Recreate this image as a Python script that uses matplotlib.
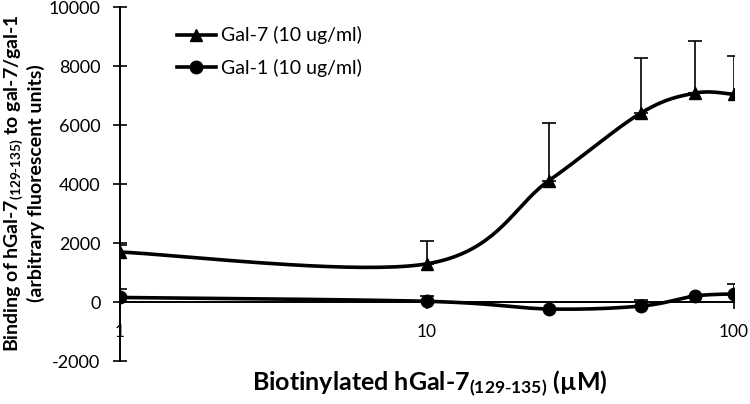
import matplotlib
matplotlib.use("Agg")
import matplotlib.pyplot as plt
from matplotlib.ticker import FixedLocator, FixedFormatter
import numpy as np

plt.rcParams['font.family'] = ['Lato', 'DejaVu Sans']
plt.rcParams['mathtext.default'] = 'regular'
plt.rcParams['axes.unicode_minus'] = False

# concentrations (uM)
conc = [1, 10, 25, 50, 75, 100]
# Gal-7 binding and upper error
gal7 = [1700, 1300, 4120, 6420, 7090, 7050]
gal7_err = [250, 780, 1940, 1870, 1760, 1290]
# Gal-1 binding and upper error
gal1 = [160, 30, -230, -130, 210, 280]
gal1_err = [290, 165, 0, 200, 0, 320]

yticks = [-2000, 0, 2000, 4000, 6000, 8000, 10000]
xticks = [1, 10, 100]
xticklabels = ['1', '10', '100']


def smooth(ax, xs, ys, n=40):
    # excel-like smoothed line: bezier through the points, done in pixel space
    p = ax.transData.transform(np.column_stack([xs, ys]))
    pts = np.vstack([p[0], p, p[-1]])
    out = []
    t = np.linspace(0, 1, n)[:, None]
    for i in range(1, len(pts) - 2):
        p0, p1, p2, p3 = pts[i - 1], pts[i], pts[i + 1], pts[i + 2]
        c1 = p1 + (p2 - p0) / 6
        c2 = p2 - (p3 - p1) / 6
        seg = (1 - t) ** 3 * p1 + 3 * (1 - t) ** 2 * t * c1 + 3 * (1 - t) * t ** 2 * c2 + t ** 3 * p2
        out.append(seg)
    out = np.vstack(out)
    d = ax.transData.inverted().transform(out)
    return d[:, 0], d[:, 1]


fig = plt.figure(figsize=(7.5, 4.04), dpi=100)
ax = fig.add_axes([0.16, 0.106, 0.818, 0.876])
ax.set_xscale('log')
ax.set_xlim(1, 100)
ax.set_ylim(-2000, 10000)

ax.spines['top'].set_visible(False)
ax.spines['right'].set_visible(False)
ax.spines['left'].set_linewidth(1.4)
ax.spines['bottom'].set_linewidth(1.4)
ax.spines['bottom'].set_position(('data', 0))

ax.yaxis.set_major_locator(FixedLocator(yticks))
ax.tick_params(axis='y', direction='inout', length=10, width=1.2, labelsize=13, pad=9)
ax.xaxis.set_major_locator(FixedLocator(xticks))
ax.xaxis.set_major_formatter(FixedFormatter(xticklabels))
ax.xaxis.set_minor_locator(FixedLocator([]))
ax.tick_params(axis='x', direction='out', length=5, width=1.2, labelsize=12.5, pad=11)

# error bars (upper only)
ax.errorbar(conc, gal7, yerr=[[0] * 6, gal7_err], fmt='none', ecolor='black',
            elinewidth=1.2, capsize=4.7, capthick=1.2, zorder=2)
ax.errorbar(conc, gal1, yerr=[[0] * 6, gal1_err], fmt='none', ecolor='black',
            elinewidth=1.2, capsize=4.7, capthick=1.2, zorder=2)

sx, sy = smooth(ax, conc, gal7)
ax.plot(sx, sy, color='black', lw=2.6, zorder=3)
ax.plot(conc, gal7, ls='none', marker='^', ms=9, color='black', zorder=4)
sx, sy = smooth(ax, conc, gal1)
ax.plot(sx, sy, color='black', lw=2.6, zorder=3)
ax.plot(conc, gal1, ls='none', marker='o', ms=9, color='black', zorder=4)

# legend handles
h7, = ax.plot([], [], color='black', lw=2.6, marker='^', ms=9)
h1, = ax.plot([], [], color='black', lw=2.6, marker='o', ms=9)
ax.legend([h7, h1], ['Gal-7 (10 ug/ml)', 'Gal-1 (10 ug/ml)'], loc='upper left',
          bbox_to_anchor=(0.236, 0.935), bbox_transform=fig.transFigure,
          frameon=False, fontsize=14, handlelength=2.0, handletextpad=0.25,
          labelspacing=0.75, borderaxespad=0, borderpad=0)

fig.text(0.019, 0.547, r'Binding of hGal-7$_{(129\text{-}135)}$ to gal-7/gal-1',
         rotation=90, ha='center', va='center', fontsize=14, fontweight='bold')
fig.text(0.048, 0.547, '(arbitrary fluorescent units)', rotation=90,
         ha='center', va='center', fontsize=14, fontweight='bold')
fig.text(0.573, 0.05, r'Biotinylated hGal-7$_{(129\text{-}135)}$ (µM)',
         ha='center', va='center', fontsize=18, fontweight='bold')

fig.savefig('out.png', dpi=100)
